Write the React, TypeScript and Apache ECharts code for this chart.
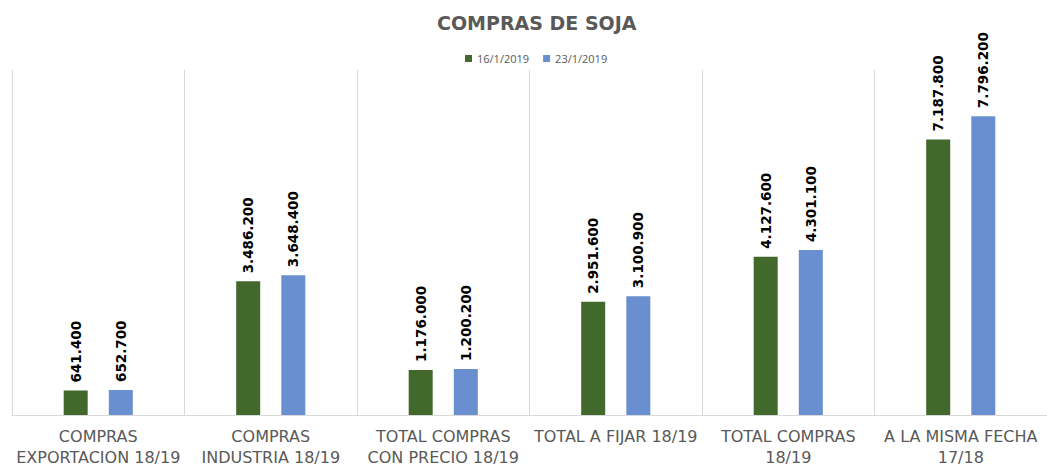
import React, { useEffect, useRef } from "react";
import * as echarts from "echarts";

const categories = [
  "COMPRAS\nEXPORTACION 18/19",
  "COMPRAS\nINDUSTRIA 18/19",
  "TOTAL COMPRAS\nCON PRECIO 18/19",
  "TOTAL A FIJAR 18/19",
  "TOTAL COMPRAS\n18/19",
  "A LA MISMA FECHA\n17/18",
];
const seriesNames = ["16/1/2019", "23/1/2019"];
const values1 = [641400, 3486200, 1176000, 2951600, 4127600, 7187800];
const values2 = [652700, 3648400, 1200200, 3100900, 4301100, 7796200];

const fmt = (v: number) => v.toLocaleString("de-DE");

export default function App() {
  const ref = useRef<HTMLDivElement>(null);
  useEffect(() => {
    const chart = echarts.init(ref.current!, null, { renderer: "svg" });
    const font = "'Open Sans', 'Liberation Sans', sans-serif";
    const wide = "'DejaVu Sans', sans-serif";
    const label = {
      show: true,
      position: "top",
      rotate: 90,
      align: "left",
      verticalAlign: "middle",
      distance: 8,
      formatter: (p: any) => fmt(p.value),
      fontSize: 13.5,
      fontWeight: "bold",
      color: "#000",
      fontFamily: wide,
    };
    chart.setOption({
      animation: false,
      backgroundColor: "#fff",
      title: {
        text: "COMPRAS DE SOJA",
        left: 432,
        top: 8,
        textStyle: { fontSize: 19, fontWeight: "bold", color: "#595959", fontFamily: wide },
      },
      legend: {
        top: 48,
        left: 460,
        itemWidth: 7,
        itemHeight: 7,
        itemGap: 14,
        icon: "rect",
        textStyle: { fontSize: 11, color: "#595959", fontFamily: font },
        data: seriesNames,
      },
      grid: { left: 12, right: -4, top: 70, bottom: 51 },
      xAxis: {
        type: "category",
        data: categories,
        axisLine: { lineStyle: { color: "#d9d9d9" } },
        axisTick: { show: false },
        splitLine: { show: true, lineStyle: { color: "#d9d9d9" } },
        axisLabel: {
          interval: 0,
          fontSize: 16,
          color: "#595959",
          lineHeight: 21,
          margin: 11,
          fontFamily: wide,
        },
      },
      yAxis: {
        type: "value",
        min: 0,
        max: 9000000,
        show: false,
        splitLine: { show: false },
      },
      series: [
        {
          name: seriesNames[0],
          type: "bar",
          data: values1,
          barWidth: 24,
          barGap: "88%",
          itemStyle: { color: "#43682b" },
          label,
        },
        {
          name: seriesNames[1],
          type: "bar",
          data: values2,
          barWidth: 24,
          barGap: "88%",
          itemStyle: { color: "#6a8fd0" },
          label,
        },
      ],
    });
    return () => chart.dispose();
  }, []);
  return <div ref={ref} style={{ width: 1047, height: 468, position: "absolute", left: 0, top: 0 }} />;
}
